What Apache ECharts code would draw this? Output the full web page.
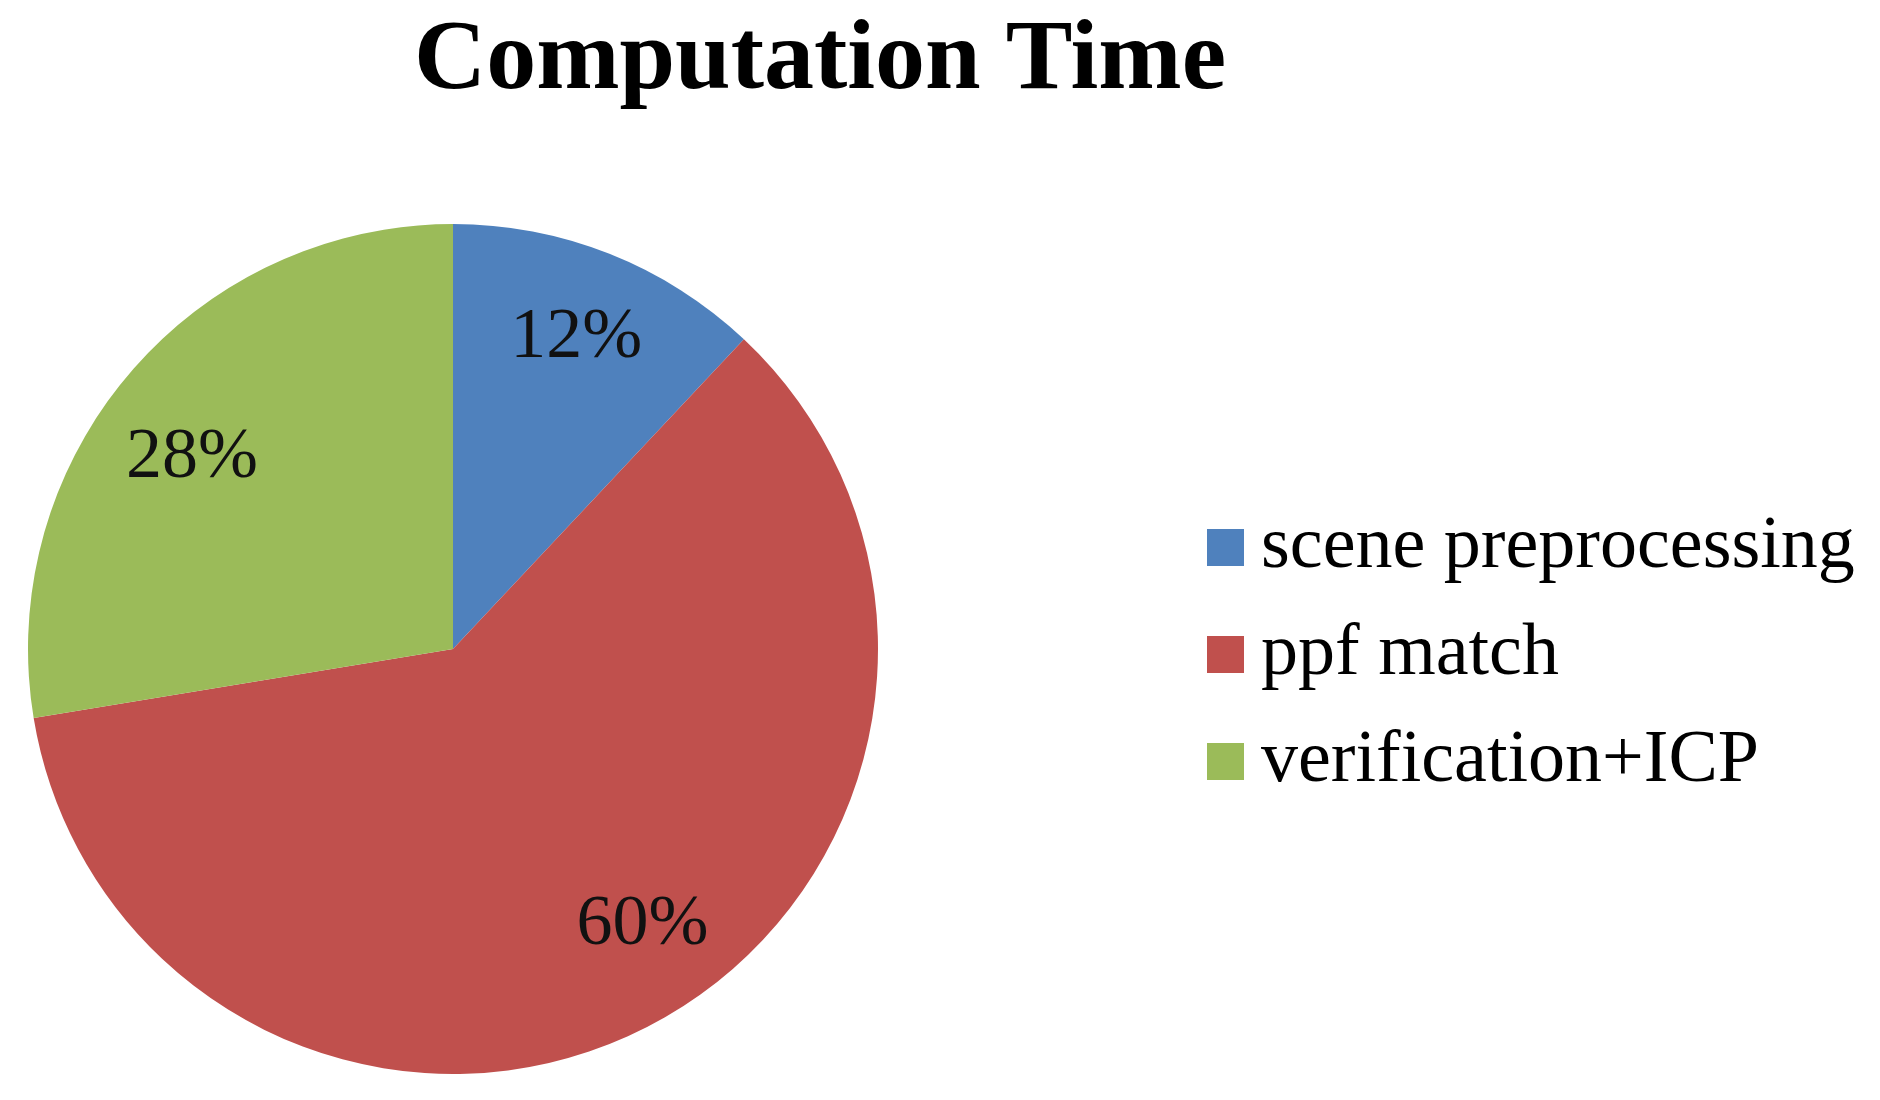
<!DOCTYPE html>
<html>
<head>
<meta charset="utf-8">
<title>Computation Time</title>
<script src="https://cdn.jsdelivr.net/npm/echarts@6/dist/echarts.min.js"></script>
<style>
  html, body { margin: 0; padding: 0; background: #fff; }
  #chart { width: 1880px; height: 1100px; }
</style>
</head>
<body>
<div id="chart"></div>
<script>
// stage names and their share of the run time (percent)
const stages = ['scene preprocessing', 'ppf match', 'verification+ICP']
const shares = [12.0, 60.4, 27.6]
const colors = ['#4F81BD', '#C0504D', '#9BBB59']

const serif = '"Liberation Serif", "Times New Roman", serif'

// small nudges so the percent labels sit where the original "best fit" put them
const labelNudge = {
  'scene preprocessing': [0, 0],
  'ppf match': [32, -19],
  'verification+ICP': [-6, 26]
}

const chart = echarts.init(document.getElementById('chart'))

chart.setOption({
  backgroundColor: '#fff',
  animation: false,
  color: colors,
  title: {
    text: 'Computation Time',
    left: 815,
    textAlign: 'center',
    top: 7,
    textStyle: { fontFamily: serif, fontWeight: 'bold', fontSize: 100, color: '#000' }
  },
  legend: {
    orient: 'vertical',
    left: 1202,
    top: 505,
    itemWidth: 37,
    itemHeight: 37,
    itemGap: 32,
    icon: 'rect',
    data: stages,
    textStyle: {
      fontFamily: serif,
      fontSize: 74,
      lineHeight: 75,
      color: '#000',
      padding: [0, 0, 0, 12]
    }
  },
  series: [
    {
      // the visible pie
      type: 'pie',
      center: [453, 649],
      radius: [0, 425],
      startAngle: 90,
      clockwise: true,
      silent: true,
      label: { show: false },
      labelLine: { show: false },
      data: stages.map((name, i) => ({ name, value: shares[i] }))
    },
    {
      // transparent ring, only used to place the percent labels further out
      type: 'pie',
      center: [453, 649],
      radius: [238, 425],
      startAngle: 90,
      clockwise: true,
      silent: true,
      percentPrecision: 0,
      itemStyle: { color: 'rgba(0,0,0,0)' },
      label: {
        show: true,
        position: 'inside',
        formatter: '{d}%',
        fontFamily: serif,
        fontSize: 72,
        color: '#111'
      },
      labelLine: { show: false },
      emphasis: { disabled: true },
      data: stages.map((name, i) => ({
        name,
        value: shares[i],
        label: { offset: labelNudge[name] }
      }))
    }
  ]
})
</script>
</body>
</html>
